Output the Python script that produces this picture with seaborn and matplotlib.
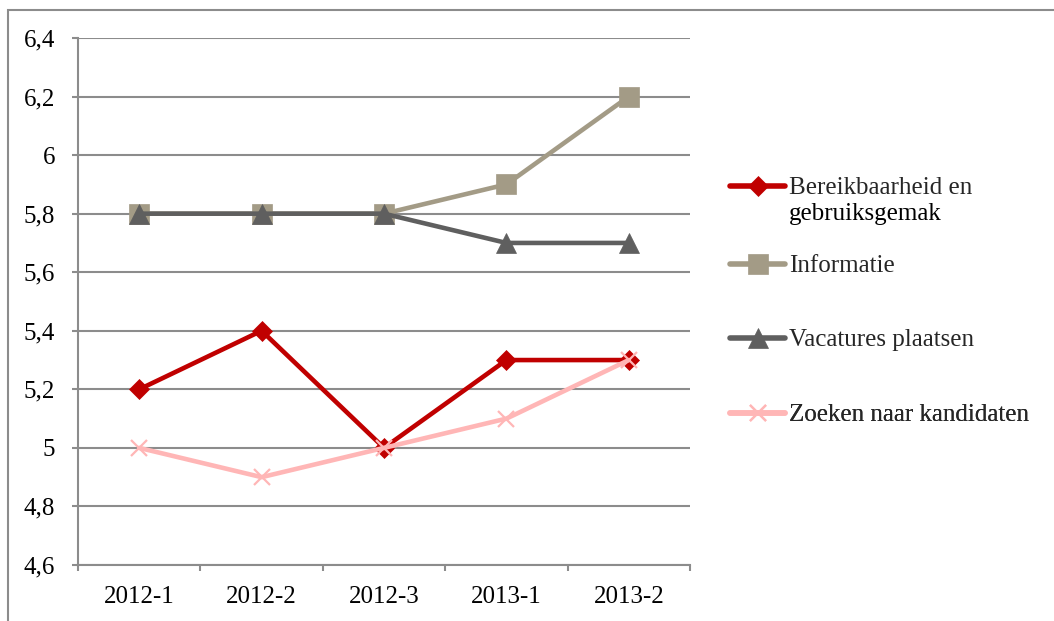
import matplotlib
matplotlib.use("Agg")
import matplotlib.pyplot as plt
import seaborn as sns
import pandas as pd
from matplotlib.patches import Rectangle
from matplotlib.lines import Line2D
from matplotlib.ticker import FixedLocator, FuncFormatter

periods = ["2012-1", "2012-2", "2012-3", "2013-1", "2013-2"]
bereik = [5.2, 5.4, 5.0, 5.3, 5.3]
informatie = [5.8, 5.8, 5.8, 5.9, 6.2]
vacatures = [5.8, 5.8, 5.8, 5.7, 5.7]
zoeken = [5.0, 4.9, 5.0, 5.1, 5.3]

series_names = ["Bereikbaarheid en gebruiksgemak", "Informatie",
                "Vacatures plaatsen", "Zoeken naar kandidaten"]
series_values = [bereik, informatie, vacatures, zoeken]
colors = ["#C00000", "#A39B86", "#5F5F5F", "#FFB6B6"]
markers = ["D", "s", "^", "x"]
msizes = [10.5, 14, 14, 11]

rows = []
for name, vals in zip(series_names, series_values):
    for p, v in zip(periods, vals):
        rows.append({"periode": p, "score": v, "reeks": name})
df = pd.DataFrame(rows)

sns.set_style("white")
plt.rcParams["font.family"] = ["Liberation Serif", "DejaVu Serif"]
FS = 18

fig = plt.figure(figsize=(10.54, 6.21), dpi=100)
ax = fig.add_axes([78 / 1054, 1 - 565 / 621, (690 - 78) / 1054, (565 - 38) / 621])

for name, col, mk, ms in zip(series_names, colors, markers, msizes):
    sub = df[df["reeks"] == name]
    sns.lineplot(data=sub, x="periode", y="score", ax=ax, color=col, lw=3.3,
                 marker=mk, markersize=ms, markeredgecolor=col,
                 markeredgewidth=1.6 if mk == "x" else 0.5,
                 legend=False, sort=False)

ax.set_xlim(-0.5, 4.5)
ax.set_ylim(4.6, 6.4)
ax.set_yticks([4.6, 4.8, 5.0, 5.2, 5.4, 5.6, 5.8, 6.0, 6.2, 6.4])
ax.yaxis.set_major_formatter(FuncFormatter(lambda v, p: f"{v:g}".replace(".", ",")))
ax.set_xticks(range(len(periods)))
ax.set_xticklabels(periods)
ax.xaxis.set_minor_locator(FixedLocator([-0.5, 0.5, 1.5, 2.5, 3.5, 4.5]))
ax.tick_params(axis="x", which="major", length=0, pad=15, labelsize=FS, colors="#000000")
ax.tick_params(axis="x", which="minor", length=4.5, width=1.5, color="#8C8C8C", direction="out", bottom=True)
ax.tick_params(axis="y", which="major", length=4.5, width=1.5, color="#8C8C8C", direction="out", left=True,
               pad=12, labelsize=FS, labelcolor="#000000")
ax.set_xlabel("")
ax.set_ylabel("")
ax.grid(axis="y", color="#8C8C8C", lw=1.5)
ax.set_axisbelow(True)
for s in ["top", "right"]:
    ax.spines[s].set_visible(False)
for s in ["left", "bottom"]:
    ax.spines[s].set_color("#8C8C8C")
    ax.spines[s].set_linewidth(1.5)

# Legend: one entry per block, positioned like the original
legend_labels = ["Bereikbaarheid en", "Informatie", "Vacatures plaatsen", "Zoeken naar kandidaten"]
legend_y = [188, 266, 340, 415]
for lab, col, mk, ms, y in zip(legend_labels, colors, markers, msizes, legend_y):
    h = Line2D([], [], color=col, lw=4, marker=mk, markersize=ms, markeredgecolor=col,
               markeredgewidth=1.6 if mk == "x" else 0.5)
    lg = ax.legend([h], [lab], loc="center left", bbox_to_anchor=(730 / 1054, 1 - y / 621),
                   bbox_transform=fig.transFigure, frameon=False, fontsize=FS,
                   handlelength=2.2, handletextpad=0.16, borderaxespad=0, borderpad=0)
    ax.add_artist(lg)
fig.text(789 / 1054, 1 - 214 / 621, "gebruiksgemak", fontsize=FS, va="center", ha="left", color="#000000")

fig.patches.append(Rectangle((8 / 1054, -0.1), 1.2, 1 - 10 / 621 + 0.1, transform=fig.transFigure,
                             fill=False, edgecolor="#8C8C8C", lw=1.5))

fig.savefig("out.png", dpi=100)
